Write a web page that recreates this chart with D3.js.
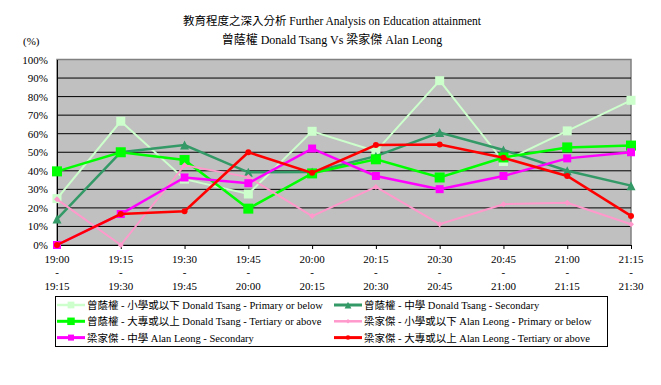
<!DOCTYPE html>
<html lang="zh-Hant">
<head>
<meta charset="utf-8"/>
<script src="https://d3js.org/d3.v7.min.js"></script>
<style>
    body { margin: 0; background: #fff; }
    text { font-family: "Liberation Serif", "Times New Roman", "Noto Sans CJK TC", serif; fill: #000; }
</style>
</head>
<body>
<script>
    // Time slots (start / end of each 15 minute window)
    var startTimes = ["19:00", "19:15", "19:30", "19:45", "20:00", "20:15", "20:30", "20:45", "21:00", "21:15"];
    var endTimes   = ["19:15", "19:30", "19:45", "20:00", "20:15", "20:30", "20:45", "21:00", "21:15", "21:30"];
    var yTicks = [0, 10, 20, 30, 40, 50, 60, 70, 80, 90, 100];

    // Series values (%)
    var tsangPrimary   = [25, 66.7, 35.5, 27.5, 61.3, 50.5, 88.6, 45, 61.5, 78];
    var tsangSecondary = [14, 50, 53.9, 39.2, 39.3, 47.9, 60.6, 51.2, 40, 32];
    var tsangTertiary  = [39.7, 50, 45.8, 19.6, 38.6, 46.2, 36.4, 47.2, 52.6, 53.6];
    var leongPrimary   = [24.6, 0, 43, 36.6, 15.6, 31.3, 11.2, 22, 22.8, 11.2];
    var leongSecondary = [0, 16.7, 36.4, 33.3, 52, 37.2, 30.1, 37.2, 46.7, 50];
    var leongTertiary  = [0, 16.7, 18.2, 50, 38.9, 53.9, 54.2, 47, 37.2, 15.7];

    var seriesNames = [
        "曾蔭權 - 小學或以下 Donald Tsang - Primary or below",
        "曾蔭權 - 中學 Donald Tsang - Secondary",
        "曾蔭權 - 大專或以上 Donald Tsang - Tertiary or above",
        "梁家傑 - 小學或以下 Alan Leong - Primary or below",
        "梁家傑 - 中學 Alan Leong - Secondary",
        "梁家傑 - 大專或以上 Alan Leong - Tertiary or above"
    ];

    var series = [
        {name: seriesNames[0], values: tsangPrimary,   color: "#ccffcc", width: 2,   marker: "square",   size: 9},
        {name: seriesNames[1], values: tsangSecondary, color: "#339966", width: 2.5, marker: "triangle", size: 9},
        {name: seriesNames[2], values: tsangTertiary,  color: "#00ff00", width: 2.5, marker: "square",   size: 10},
        {name: seriesNames[3], values: leongPrimary,   color: "#ff99cc", width: 2,   marker: "diamond",  size: 6},
        {name: seriesNames[4], values: leongSecondary, color: "#ff00ff", width: 2.5, marker: "square",   size: 8},
        {name: seriesNames[5], values: leongTertiary,  color: "#ff0000", width: 2.5, marker: "circle",   size: 6}
    ];

    var W = 661, H = 385;
    var plot = {left: 57, right: 631, top: 59.5, bottom: 245};

    var svg = d3.select("body").append("svg")
        .attr("width", W)
        .attr("height", H);

    // Titles
    svg.append("text")
        .attr("x", 332).attr("y", 25)
        .attr("text-anchor", "middle")
        .style("font-size", "11.5px")
        .text("教育程度之深入分析 Further Analysis on Education attainment");
    svg.append("text")
        .attr("x", 332).attr("y", 44)
        .attr("text-anchor", "middle")
        .style("font-size", "12px")
        .text("曾蔭權 Donald Tsang Vs 梁家傑 Alan Leong");
    svg.append("text")
        .attr("x", 23).attr("y", 45)
        .style("font-size", "11px")
        .text("(%)");

    var x = d3.scalePoint()
        .domain(startTimes)
        .range([plot.left, plot.right]);
    var y = d3.scaleLinear()
        .domain([0, 100])
        .range([plot.bottom, plot.top]);

    // Plot background
    svg.append("rect")
        .attr("x", plot.left).attr("y", plot.top)
        .attr("width", plot.right - plot.left)
        .attr("height", plot.bottom - plot.top)
        .attr("fill", "#c0c0c0")
        .attr("stroke", "#808080")
        .attr("stroke-width", 1.5);

    // Gridlines
    svg.selectAll("line.grid")
        .data(yTicks.filter(function(d) { return d > 0 && d < 100; }))
        .enter().append("line")
        .attr("class", "grid")
        .attr("x1", plot.left).attr("x2", plot.right)
        .attr("y1", function(d) { return y(d); })
        .attr("y2", function(d) { return y(d); })
        .attr("stroke", "#000")
        .attr("stroke-width", 1);

    // Y axis
    var yAxis = svg.append("g")
        .attr("transform", "translate(" + plot.left + ",0)")
        .call(d3.axisLeft(y).tickValues(yTicks).tickSize(0).tickPadding(9)
            .tickFormat(function(d) { return d + "%"; }));
    yAxis.attr("font-family", null);
    yAxis.select(".domain").attr("stroke", "#000");
    yAxis.selectAll("text").style("font-size", "11px");

    // X axis
    var xAxis = svg.append("g")
        .attr("transform", "translate(0," + plot.bottom + ")")
        .call(d3.axisBottom(x).tickSize(4).tickFormat(""));
    xAxis.select(".domain").attr("stroke", "#000");
    xAxis.selectAll("line").attr("stroke", "#000");

    var xLabels = svg.append("g").selectAll("g")
        .data(startTimes)
        .enter().append("g")
        .attr("transform", function(d) { return "translate(" + x(d) + ",0)"; });
    xLabels.append("text").attr("y", 263).attr("text-anchor", "middle")
        .style("font-size", "11px").text(function(d) { return d; });
    xLabels.append("text").attr("y", 276).attr("text-anchor", "middle")
        .style("font-size", "11px").text("-");
    xLabels.append("text").attr("y", 290).attr("text-anchor", "middle")
        .style("font-size", "11px").text(function(d, i) { return endTimes[i]; });

    // Marker drawing
    function drawMarker(g, s, cx, cy, scale) {
        var sz = s.size * (scale || 1);
        if (s.marker === "square") {
            g.append("rect")
                .attr("x", cx - sz / 2).attr("y", cy - sz / 2)
                .attr("width", sz).attr("height", sz)
                .attr("fill", s.color);
        } else if (s.marker === "triangle") {
            g.append("path")
                .attr("d", "M" + cx + "," + (cy - sz / 2) + "L" + (cx + sz / 2) + "," + (cy + sz / 2) +
                    "L" + (cx - sz / 2) + "," + (cy + sz / 2) + "Z")
                .attr("fill", s.color);
        } else if (s.marker === "diamond") {
            g.append("path")
                .attr("d", "M" + cx + "," + (cy - sz / 2) + "L" + (cx + sz / 2) + "," + cy +
                    "L" + cx + "," + (cy + sz / 2) + "L" + (cx - sz / 2) + "," + cy + "Z")
                .attr("fill", s.color);
        } else {
            g.append("circle")
                .attr("cx", cx).attr("cy", cy).attr("r", sz / 2)
                .attr("fill", s.color);
        }
    }

    var line = d3.line()
        .x(function(d, i) { return x(startTimes[i]); })
        .y(function(d) { return y(d); });

    series.forEach(function(s) {
        var g = svg.append("g");
        g.append("path")
            .datum(s.values)
            .attr("d", line)
            .attr("fill", "none")
            .attr("stroke", s.color)
            .attr("stroke-width", s.width);
        s.values.forEach(function(v, i) {
            drawMarker(g, s, x(startTimes[i]), y(v));
        });
    });

    // Legend
    var legend = svg.append("g");
    legend.append("rect")
        .attr("x", 55.5).attr("y", 296.5)
        .attr("width", 552).attr("height", 50)
        .attr("fill", "#fff")
        .attr("stroke", "#000")
        .attr("stroke-width", 1);

    series.forEach(function(s, i) {
        var col = i % 2, row = Math.floor(i / 2);
        var lx = col === 0 ? 57 : 334;
        var ly = 305 + row * 16.3;
        var item = legend.append("g");
        item.append("line")
            .attr("x1", lx).attr("x2", lx + 28)
            .attr("y1", ly).attr("y2", ly)
            .attr("stroke", s.color)
            .attr("stroke-width", s.width + 0.5);
        drawMarker(item, s, lx + 14, ly, 0.75);
        item.append("text")
            .attr("x", lx + 30).attr("y", ly + 4)
            .style("font-size", "10.5px")
            .text(s.name);
    });
</script>
</body>
</html>
